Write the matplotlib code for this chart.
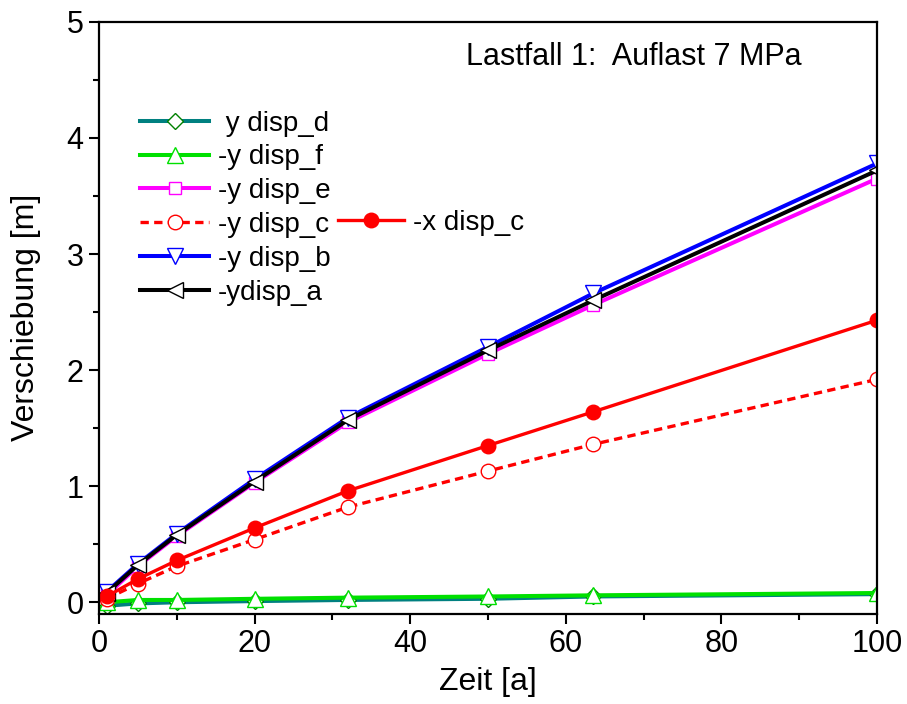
import matplotlib.pyplot as plt

plt.rcParams['font.family'] = ['Liberation Sans', 'DejaVu Sans']

# Zeit [a]
zeit = [1, 5, 10, 20, 32, 50, 63.5, 100]

# Verschiebung [m]
y_disp_d = [-0.03, -0.01, 0.00, 0.01, 0.02, 0.03, 0.05, 0.07]
y_disp_f = [0.00, 0.02, 0.02, 0.03, 0.04, 0.05, 0.06, 0.08]
y_disp_e = [0.06, 0.31, 0.57, 1.03, 1.55, 2.14, 2.56, 3.65]
y_disp_c = [0.03, 0.16, 0.31, 0.54, 0.82, 1.13, 1.36, 1.92]
x_disp_c = [0.05, 0.20, 0.36, 0.64, 0.96, 1.35, 1.64, 2.43]
y_disp_b = [0.09, 0.33, 0.59, 1.06, 1.59, 2.20, 2.66, 3.78]
y_disp_a = [0.08, 0.32, 0.58, 1.04, 1.57, 2.17, 2.60, 3.72]

fig, ax = plt.subplots(figsize=(9.07, 7.04), dpi=100)
fig.subplots_adjust(left=0.109, right=0.967, top=0.969, bottom=0.128)

lw = 2.9
ms = 11
l_d, = ax.plot(zeit, y_disp_d, color='#008080', lw=lw, marker='D', ms=ms * 0.75,
               mfc='white', mec='#008000', mew=1, label=' y disp_d')
l_f, = ax.plot(zeit, y_disp_f, color='#00e000', lw=lw, marker='^', ms=ms,
               mfc='white', mec='#00e000', mew=1, label='-y disp_f')
l_e, = ax.plot(zeit, y_disp_e, color='#ff00ff', lw=lw, marker='s', ms=ms * 0.75,
               mfc='white', mec='#ff00ff', mew=1, label='-y disp_e')
l_c, = ax.plot(zeit, y_disp_c, color='red', lw=2.4, ls=(0, (2.5, 1.6)), marker='o',
               ms=ms * 0.95, mfc='white', mec='red', mew=1, label='-y disp_c')
l_b, = ax.plot(zeit, y_disp_b, color='#0000ff', lw=lw, marker='v', ms=ms,
               mfc='white', mec='#0000ff', mew=1, label='-y disp_b')
l_a, = ax.plot(zeit, y_disp_a, color='black', lw=lw, marker='<', ms=ms,
               mfc='white', mec='black', mew=1, label='-ydisp_a')
l_x, = ax.plot(zeit, x_disp_c, color='red', lw=2.4, marker='o', ms=ms * 0.95,
               mfc='red', mec='red', mew=1, label='-x disp_c')

ax.set_xlim(0, 100)
ax.set_ylim(-0.1, 5)
ax.set_xticks([0, 20, 40, 60, 80, 100])
ax.set_xticks(range(10, 100, 20), minor=True)
ax.set_yticks([0, 1, 2, 3, 4, 5])
ax.set_yticks([0.5, 1.5, 2.5, 3.5, 4.5], minor=True)
ax.tick_params(which='major', direction='out', length=7, width=1.5, labelsize=22,
               top=False, right=False, pad=4)
ax.tick_params(which='minor', direction='out', length=4, width=1.5,
               top=False, right=False)
for s in ax.spines.values():
    s.set_linewidth(1.6)

ax.set_xlabel('Zeit [a]', fontsize=23, labelpad=6)
ax.set_ylabel('Verschiebung [m]', fontsize=23, labelpad=18)

ax.text(0.472, 0.94, 'Lastfall 1:  Auflast 7 MPa', transform=ax.transAxes,
        fontsize=22, ha='left', va='center')

leg1 = ax.legend(handles=[l_d, l_f, l_e, l_c, l_b, l_a], loc='upper left',
                 bbox_to_anchor=(0.0527, 0.85), frameon=False, fontsize=20,
                 handlelength=2.5, handletextpad=0.3, labelspacing=0.28,
                 borderpad=0, borderaxespad=0)
ax.add_artist(leg1)
ax.legend(handles=[l_x], loc='upper left', bbox_to_anchor=(0.307, 0.682),
          frameon=False, fontsize=20, handlelength=2.4, handletextpad=0.3,
          borderpad=0, borderaxespad=0)

fig.savefig('out.png', dpi=100)
